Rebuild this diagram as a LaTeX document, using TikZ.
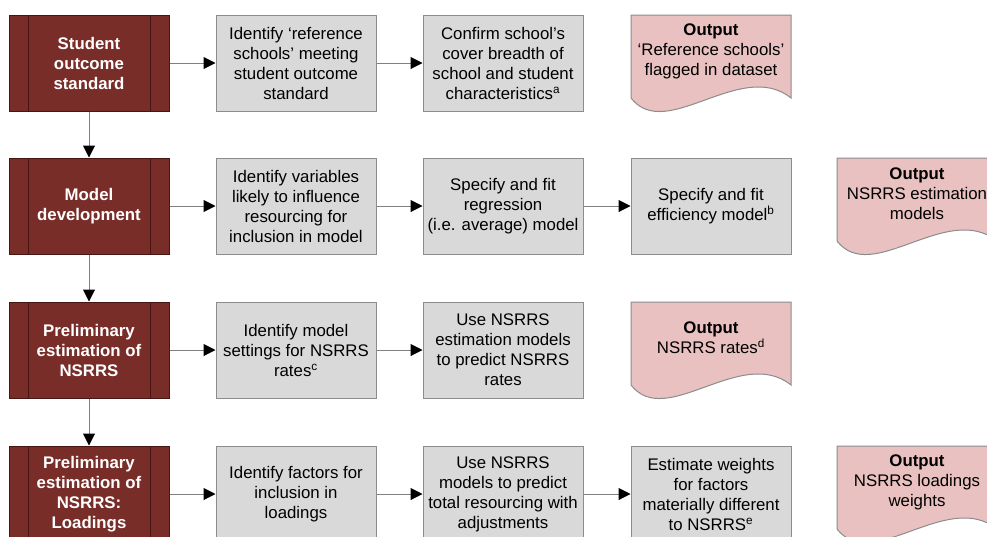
\documentclass[tikz,border=0pt]{standalone}
\usepackage{fontspec}
\setmainfont{Liberation Sans}
\usetikzlibrary{arrows.meta}

\definecolor{stagered}{RGB}{120,45,40}
\definecolor{stageline}{RGB}{72,22,18}
\definecolor{taskgray}{RGB}{217,217,217}
\definecolor{taskline}{RGB}{140,140,140}
\definecolor{outpink}{RGB}{232,193,192}
\definecolor{flowline}{RGB}{128,128,128}

\tikzset{every picture/.style={line width=0.75pt}}

\tikzset{
  stage/.style={draw=stageline, fill=stagered, text=white, font=\fontsize{12.6}{15}\selectfont\bfseries, align=center,
    minimum width=120pt, minimum height=72pt, inner sep=0pt,
    path picture={\draw[stageline] ([xshift=14.25pt]path picture bounding box.north west) -- ([xshift=14.25pt]path picture bounding box.south west)
      ([xshift=-14.25pt]path picture bounding box.north east) -- ([xshift=-14.25pt]path picture bounding box.south east);}},
  task/.style={draw=taskline, fill=taskgray, font=\fontsize{12.6}{15}\selectfont, align=center,
    minimum width=120pt, minimum height=72pt, inner sep=0pt},
  outtext/.style={font=\fontsize{12.6}{15}\selectfont, align=center, inner sep=0pt},
  flow/.style={draw=flowline, -{Triangle[length=9pt,width=9pt,color=black]}},
  % pic y runs upward here
  outdoc/.pic={\draw[draw=taskline, fill=outpink] (-80,36) -- (80,36) -- (80,-47) .. controls (30,-7) and (-45,-92) .. (-80,-47) -- cycle;}
}

\begin{document}
\begin{tikzpicture}[x=0.75pt,y=0.75pt,yscale=-1]
\clip (0,0) rectangle (987,536);

%Row 1: student outcome standard
\node[stage] (s1) at (89,63) {Student\\outcome\\standard};
\node[task] (t11) at (296,63) {Identify ‘reference\\schools’ meeting\\student outcome\\standard};
\node[task] (t12) at (503,63) {Confirm school’s\\cover breadth of\\school and student\\characteristics\textsuperscript{a}};
\pic at (711,51) {outdoc};
\node[outtext] (o1) at (711,51) {\textbf{Output}\\‘Reference schools’\\flagged in dataset};

%Row 2: model development
\node[stage] (s2) at (89,206) {Model\\development};
\node[task] (t21) at (296,206) {Identify variables\\likely to influence\\resourcing for\\inclusion in model};
\node[task] (t22) at (503,206) {Specify and fit\\regression\\(i.e. average) model};
\node[task] (t23) at (711,206) {Specify and fit\\efficiency model\textsuperscript{b}};
\pic at (917,194) {outdoc};
\node[outtext] (o2) at (917,194) {\textbf{Output}\\NSRRS estimation\\models};

%Row 3: preliminary estimation
\node[stage] (s3) at (89,350) {Preliminary\\estimation of\\NSRRS};
\node[task] (t31) at (296,350) {Identify model\\settings for NSRRS\\rates\textsuperscript{c}};
\node[task] (t32) at (503,350) {Use NSRRS\\estimation models\\to predict NSRRS\\rates};
\pic at (711,338) {outdoc};
\node[outtext] (o3) at (711,338) {\textbf{Output}\\NSRRS rates\textsuperscript{d}};

%Row 4: loadings
\node[stage] (s4) at (89,494) {Preliminary\\estimation of\\NSRRS:\\Loadings};
\node[task] (t41) at (296,494) {Identify factors for\\inclusion in\\loadings};
\node[task] (t42) at (503,494) {Use NSRRS\\models to predict\\total resourcing with\\adjustments};
\node[task] (t43) at (711,494) {Estimate weights\\for factors\\materially different\\to NSRRS\textsuperscript{e}};
\pic at (917,482) {outdoc};
\node[outtext] (o4) at (917,482) {\textbf{Output}\\NSRRS loadings\\weights};

%Straight Lines
\draw[flow] (s1) -- (t11);
\draw[flow] (t11) -- (t12);
\draw[flow] (s2) -- (t21);
\draw[flow] (t21) -- (t22);
\draw[flow] (t22) -- (t23);
\draw[flow] (s3) -- (t31);
\draw[flow] (t31) -- (t32);
\draw[flow] (s4) -- (t41);
\draw[flow] (t41) -- (t42);
\draw[flow] (t42) -- (t43);
\draw[flow] (s1) -- (s2);
\draw[flow] (s2) -- (s3);
\draw[flow] (s3) -- (s4);

\end{tikzpicture}
\end{document}
